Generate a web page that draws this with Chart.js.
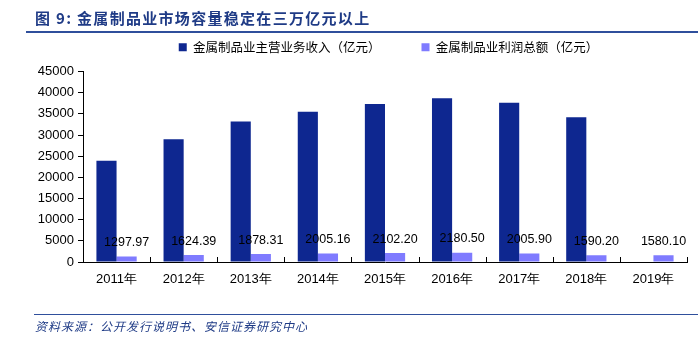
<!DOCTYPE html>
<html>
<head>
<meta charset="utf-8">
<script src="https://cdn.jsdelivr.net/npm/chart.js@4.4.0/dist/chart.umd.min.js"></script>
<style>
    html, body { margin: 0; padding: 0; background: #fff; }
    body { width: 698px; height: 339px; position: relative; overflow: hidden; }
    #title {
        position: absolute; left: 35px; top: 7px;
        font: bold 15px "Noto Sans CJK SC", sans-serif; color: #1f3b86;
        letter-spacing: 1.3px; white-space: nowrap;
    }
    #title-line { position: absolute; left: 26px; right: 0; top: 31px; height: 2px; background: #2f4f9c; }
    #source-line { position: absolute; left: 34px; right: 0; top: 314px; height: 1px; background: #2f4f9c; }
    #source {
        position: absolute; left: 35px; top: 317px;
        font: italic 12px "Noto Sans CJK SC", sans-serif; color: #1f3b86;
        letter-spacing: 1px; white-space: nowrap;
    }
    #wrap { position: absolute; left: 0; top: 0; width: 698px; height: 339px; }
</style>
</head>
<body>
<div id="wrap"><canvas id="chart-canvas"></canvas></div>
<div id="title">图 9:&nbsp;金属制品业市场容量稳定在三万亿元以上</div>
<div id="title-line"></div>
<div id="source-line"></div>
<div id="source">资料来源：公开发行说明书、安信证券研究中心</div>
<script>
    // Data
    const years = ['2011年', '2012年', '2013年', '2014年', '2015年', '2016年', '2017年', '2018年', '2019年'];
    const revenue = [23900, 29000, 33200, 35500, 37300, 38700, 37600, 34200, null];
    const profit = [1297.97, 1624.39, 1878.31, 2005.16, 2102.20, 2180.50, 2005.90, 1590.20, 1580.10];
    const revenueLabel = '金属制品业主营业务收入（亿元）';
    const profitLabel = '金属制品业利润总额（亿元）';

    const numFont = '"Liberation Sans", Arial, sans-serif';

    // Give the legend a bit more room below it, and centre it over the plot
    const legendRoom = {
        id: 'legendRoom',
        beforeInit(chart) {
            const fit = chart.legend.fit;
            chart.legend.fit = function () {
                fit.call(this);
                this.height += 8;
            };
        },
        afterLayout(chart) {
            const area = chart.chartArea;
            const shift = (area.left + area.right) / 2 - chart.width / 2 + 9;
            chart.legend.left += shift;
            chart.legend.right += shift;
        }
    };

    // Labels above the profit bars
    const profitLabels = {
        id: 'profitLabels',
        afterDatasetsDraw(chart) {
            const ctx = chart.ctx;
            const meta = chart.getDatasetMeta(1);
            ctx.save();
            ctx.font = '12.5px ' + numFont;
            ctx.fillStyle = '#000';
            ctx.textAlign = 'center';
            ctx.textBaseline = 'middle';
            meta.data.forEach((bar, i) => {
                ctx.fillText(profit[i].toFixed(2), bar.x, bar.y - 14);
            });
            ctx.restore();
        }
    };

    // Small tick marks between categories, pointing up into the plot
    const innerTicks = {
        id: 'innerTicks',
        afterDraw(chart) {
            const x = chart.scales.x;
            const ctx = chart.ctx;
            const step = (x.right - x.left) / years.length;
            ctx.save();
            ctx.strokeStyle = '#000';
            ctx.lineWidth = 1;
            ctx.beginPath();
            for (let i = 1; i <= years.length; i++) {
                const px = Math.round(x.left + i * step) + 0.5;
                ctx.moveTo(px, x.top);
                ctx.lineTo(px, x.top - 5);
            }
            ctx.stroke();
            ctx.restore();
        }
    };

    window.resultChart = new Chart(document.getElementById('chart-canvas'), {
        type: 'bar',
        data: {
            labels: years,
            datasets: [{
                label: revenueLabel,
                data: revenue,
                backgroundColor: '#0e2790',
                borderWidth: 0,
                categoryPercentage: 0.6,
                barPercentage: 1.0
            }, {
                label: profitLabel,
                data: profit,
                backgroundColor: '#7f7bff',
                borderWidth: 0,
                categoryPercentage: 0.6,
                barPercentage: 1.0
            }]
        },
        options: {
            responsive: true,
            maintainAspectRatio: false,
            animation: false,
            layout: { padding: { top: 0, left: 0, right: 11, bottom: 47 } },
            plugins: {
                legend: {
                    position: 'top',
                    labels: {
                        boxWidth: 8,
                        boxHeight: 8,
                        padding: 41,
                        color: '#000',
                        font: { size: 12.5, family: '"Noto Sans CJK SC", sans-serif' }
                    }
                },
                tooltip: { enabled: false }
            },
            scales: {
                x: {
                    grid: { display: false },
                    border: { color: '#000', width: 1 },
                    ticks: { color: '#000', padding: 2, autoSkip: false, maxRotation: 0, font: { size: 13, family: numFont } },
                    afterFit(scale) { scale.height = 30; }
                },
                y: {
                    min: 0,
                    max: 45000,
                    ticks: {
                        stepSize: 5000,
                        autoSkip: false,
                        color: '#000',
                        padding: 4,
                        font: { size: 13, family: numFont },
                        callback: (v) => String(v)
                    },
                    grid: { drawOnChartArea: false, drawTicks: true, tickLength: 5, color: '#000' },
                    border: { color: '#000', width: 1 },
                    afterFit(scale) { scale.width = 83; }
                }
            }
        },
        plugins: [legendRoom, profitLabels, innerTicks]
    });
</script>
</body>
</html>
